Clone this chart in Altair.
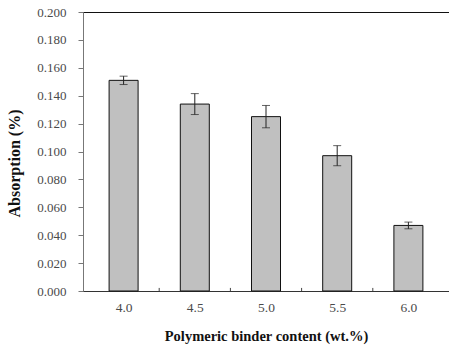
import altair as alt
import pandas as pd

# Absorption by polymeric binder content
binder = [4.0, 4.5, 5.0, 5.5, 6.0]
absorption = [0.151, 0.134, 0.125, 0.097, 0.047]
err = [0.003, 0.0075, 0.008, 0.0072, 0.0024]
y_ticks = [round(i * 0.02, 2) for i in range(11)]
minor_x = [4.25, 4.75, 5.25, 5.75]

df = pd.DataFrame({
    "binder": binder,
    "absorption": absorption,
    "lo": [a - e for a, e in zip(absorption, err)],
    "hi": [a + e for a, e in zip(absorption, err)],
})
ticks_df = pd.DataFrame({"x": minor_x, "y0": [0.0] * 4, "y1": [0.0022] * 4})

FONT = "Liberation Serif"
xscale = alt.Scale(domain=[3.75, 6.25], nice=False, zero=False)
yscale = alt.Scale(domain=[0, 0.2], nice=False)

xaxis = alt.Axis(values=binder, format=".1f", title="Polymeric binder content (wt.%)",
                 tickSize=0, labelPadding=9, titlePadding=16, domainColor="#333",
                 grid=False, labelFont=FONT, titleFont=FONT, labelFontSize=13.5,
                 titleFontSize=14.5, labelColor="#4a4a4a", titleColor="#111",
                 titleFontWeight="bold", labelOverlap=False)
yaxis = alt.Axis(values=y_ticks, format=".3f", title="Absorption (%)",
                 tickSize=5, labelPadding=12, titlePadding=14, domainColor="#777",
                 tickColor="#777", grid=False, labelFont=FONT, titleFont=FONT,
                 labelFontSize=13, titleFontSize=16, labelColor="#4a4a4a",
                 titleColor="#111", titleFontWeight="bold", labelOverlap=False,
                 titleY=151)


def X(field):
    return alt.X(field, scale=xscale, axis=xaxis)


def Y(field):
    return alt.Y(field, scale=yscale, axis=yaxis)


bars = alt.Chart(df).mark_bar(size=29, color="#c0c0c0", stroke="#111", strokeWidth=1).encode(
    x=X("binder:Q"), y=Y("absorption:Q")
)
rules = alt.Chart(df).mark_rule(color="#222", strokeWidth=1).encode(
    x=X("binder:Q"), y=Y("lo:Q"), y2="hi:Q"
)
caps_hi = alt.Chart(df).mark_tick(color="#222", size=8, thickness=1, orient="horizontal").encode(
    x=X("binder:Q"), y=Y("hi:Q")
)
caps_lo = alt.Chart(df).mark_tick(color="#222", size=8, thickness=1, orient="horizontal").encode(
    x=X("binder:Q"), y=Y("lo:Q")
)
minor = alt.Chart(ticks_df).mark_rule(color="#444", strokeWidth=1).encode(
    x=X("x:Q"), y=Y("y0:Q"), y2="y1:Q"
)

chart = alt.layer(bars, rules, caps_hi, caps_lo, minor).properties(
    width=366, height=279,
    autosize=alt.AutoSizeParams(type="none"),
    padding={"left": 83, "top": 12, "right": 0, "bottom": 55},
    background="white",
).configure_view(stroke="#111", strokeWidth=1)

chart.save("out.html", embed_options={"renderer": "svg", "actions": False})
